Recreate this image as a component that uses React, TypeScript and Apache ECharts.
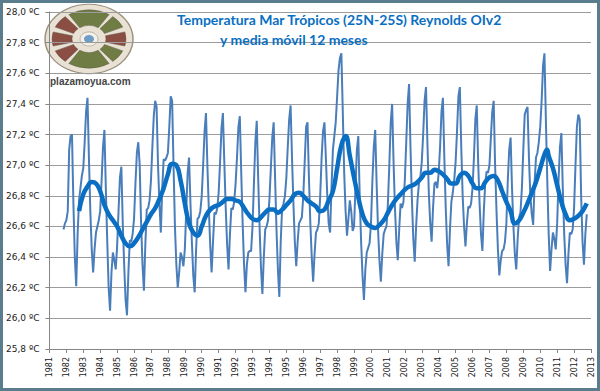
import React, { useEffect, useRef } from "react";
import * as echarts from "echarts";

// Monthly SST, tropics 25N-25S (Reynolds OIv2), Nov 1981 .. Oct 2012
const startYear = 1981;
const startMonth = 10; // November (0-based)
const sstMonthly = [
  26.58, 26.62,
  26.64, 26.70, 27.10, 27.19, 27.20, 26.75, 26.40, 26.21, 26.55, 26.77, 26.85, 26.93, // 1982
  26.98, 27.15, 27.35, 27.44, 27.05, 26.70, 26.45, 26.30, 26.45, 26.56, 26.60, 26.64, // 1983
  26.70, 26.90, 27.12, 27.23, 26.85, 26.50, 26.20, 26.05, 26.30, 26.43, 26.38, 26.32, // 1984
  26.47, 26.70, 26.92, 26.99, 26.62, 26.35, 26.12, 26.02, 26.30, 26.51, 26.50, 26.55, // 1985
  26.65, 26.88, 27.08, 27.15, 27.00, 26.62, 26.35, 26.18, 26.48, 26.71, 26.72, 26.77, // 1986
  26.90, 27.12, 27.32, 27.42, 27.38, 27.00, 26.75, 26.56, 26.85, 27.04, 27.03, 27.05, // 1987
  27.08, 27.25, 27.45, 27.42, 27.00, 26.60, 26.35, 26.20, 26.30, 26.43, 26.40, 26.34, // 1988
  26.45, 26.70, 26.95, 27.05, 26.75, 26.50, 26.28, 26.17, 26.45, 26.65, 26.66, 26.70, // 1989
  26.80, 27.00, 27.22, 27.34, 27.00, 26.72, 26.48, 26.30, 26.50, 26.69, 26.68, 26.72, // 1990
  26.82, 27.02, 27.24, 27.34, 27.02, 26.72, 26.48, 26.32, 26.55, 26.72, 26.71, 26.76, // 1991
  26.88, 27.05, 27.25, 27.32, 26.95, 26.62, 26.35, 26.17, 26.35, 26.43, 26.44, 26.44, // 1992
  26.60, 26.88, 27.15, 27.29, 26.92, 26.60, 26.33, 26.16, 26.40, 26.58, 26.60, 26.64, // 1993
  26.78, 26.98, 27.18, 27.28, 26.92, 26.58, 26.32, 26.14, 26.50, 26.72, 26.75, 26.80, // 1994
  26.92, 27.12, 27.30, 27.39, 27.05, 26.75, 26.50, 26.34, 26.50, 26.62, 26.64, 26.66, // 1995
  26.80, 27.02, 27.25, 27.28, 26.92, 26.62, 26.40, 26.24, 26.42, 26.56, 26.58, 26.62, // 1996
  26.80, 27.05, 27.22, 27.28, 27.05, 26.80, 26.62, 26.56, 26.85, 27.10, 27.19, 27.28, // 1997
  27.45, 27.62, 27.70, 27.73, 27.35, 26.95, 26.70, 26.54, 26.65, 26.77, 26.70, 26.57, // 1998
  26.60, 26.85, 27.10, 27.19, 26.80, 26.50, 26.28, 26.12, 26.32, 26.43, 26.46, 26.49, // 1999
  26.62, 26.90, 27.12, 27.23, 26.88, 26.58, 26.38, 26.24, 26.42, 26.55, 26.58, 26.60, // 2000
  26.75, 27.00, 27.28, 27.40, 27.02, 26.72, 26.50, 26.38, 26.58, 26.75, 26.72, 26.76, // 2001
  26.90, 27.15, 27.40, 27.53, 27.12, 26.78, 26.52, 26.37, 26.60, 26.77, 26.88, 26.92, // 2002
  27.02, 27.20, 27.42, 27.51, 27.15, 26.82, 26.62, 26.50, 26.72, 26.88, 26.89, 26.85, // 2003
  26.95, 27.12, 27.35, 27.44, 27.05, 26.72, 26.48, 26.34, 26.58, 26.76, 26.82, 26.90, // 2004
  27.02, 27.22, 27.45, 27.51, 27.12, 26.80, 26.60, 26.47, 26.62, 26.73, 26.72, 26.75, // 2005
  26.85, 27.05, 27.30, 27.39, 27.02, 26.75, 26.55, 26.44, 26.70, 26.88, 26.96, 26.95, // 2006
  27.00, 27.18, 27.35, 27.42, 27.00, 26.70, 26.45, 26.28, 26.38, 26.44, 26.45, 26.50, // 2007
  26.62, 26.90, 27.10, 27.18, 26.85, 26.60, 26.42, 26.32, 26.52, 26.66, 26.69, 26.85, // 2008
  27.10, 27.33, 27.36, 27.38, 27.05, 26.80, 26.68, 26.61, 26.88, 27.05, 27.08, 27.15, // 2009
  27.25, 27.42, 27.65, 27.73, 27.30, 26.90, 26.55, 26.31, 26.45, 26.56, 26.52, 26.45, // 2010
  26.62, 26.90, 27.12, 27.21, 26.85, 26.55, 26.35, 26.23, 26.42, 26.56, 26.55, 26.58, // 2011
  26.72, 27.00, 27.25, 27.33, 27.30, 26.80, 26.50, 26.35, 26.55, 26.68, // 2012
];

// 12-month moving average (quarterly)
const maYears = [
  1982.75, 1983.0, 1983.25, 1983.5, 1983.75, 1984.0, 1984.25, 1984.5, 1984.75,
  1985.0, 1985.25, 1985.5, 1985.75, 1986.0, 1986.25, 1986.5, 1986.75,
  1987.0, 1987.25, 1987.5, 1987.75, 1988.0, 1988.25, 1988.5, 1988.75,
  1989.0, 1989.25, 1989.5, 1989.75, 1990.0, 1990.25, 1990.5, 1990.75,
  1991.0, 1991.25, 1991.5, 1991.75, 1992.0, 1992.25, 1992.5, 1992.75,
  1993.0, 1993.25, 1993.5, 1993.75, 1994.0, 1994.25, 1994.5, 1994.75,
  1995.0, 1995.25, 1995.5, 1995.75, 1996.0, 1996.25, 1996.5, 1996.75,
  1997.0, 1997.25, 1997.5, 1997.75, 1998.0, 1998.25, 1998.5, 1998.75,
  1999.0, 1999.25, 1999.5, 1999.75, 2000.0, 2000.25, 2000.5, 2000.75,
  2001.0, 2001.25, 2001.5, 2001.75, 2002.0, 2002.25, 2002.5, 2002.75,
  2003.0, 2003.25, 2003.5, 2003.75, 2004.0, 2004.25, 2004.5, 2004.75,
  2005.0, 2005.25, 2005.5, 2005.75, 2006.0, 2006.25, 2006.5, 2006.75,
  2007.0, 2007.25, 2007.5, 2007.75, 2008.0, 2008.25, 2008.5, 2008.75,
  2009.0, 2009.25, 2009.5, 2009.75, 2010.0, 2010.25, 2010.4, 2010.5, 2010.75,
  2011.0, 2011.25, 2011.5, 2011.75, 2012.0, 2012.25, 2012.5, 2012.75,
];
const maValues = [
  26.70, 26.81, 26.86, 26.89, 26.88, 26.83, 26.74, 26.68, 26.64,
  26.60, 26.54, 26.49, 26.47, 26.49, 26.53, 26.58, 26.63,
  26.68, 26.72, 26.78, 26.85, 26.94, 27.01, 27.00, 26.90,
  26.75, 26.62, 26.56, 26.54, 26.60, 26.67, 26.71, 26.73,
  26.74, 26.76, 26.78, 26.78, 26.77, 26.76, 26.72, 26.68,
  26.65, 26.64, 26.66, 26.69, 26.71, 26.71, 26.69, 26.71,
  26.74, 26.77, 26.81, 26.82, 26.80, 26.77, 26.75, 26.73,
  26.70, 26.71, 26.77, 26.83, 26.98, 27.13, 27.19, 27.06,
  26.92, 26.79, 26.68, 26.62, 26.60, 26.59, 26.61, 26.64,
  26.69, 26.74, 26.78, 26.81, 26.84, 26.86, 26.87, 26.89,
  26.92, 26.95, 26.95, 26.97, 26.96, 26.94, 26.91, 26.88,
  26.88, 26.93, 26.95, 26.93, 26.88, 26.85, 26.85, 26.89,
  26.92, 26.93, 26.90, 26.83, 26.76, 26.70, 26.62, 26.64,
  26.69, 26.75, 26.82, 26.89, 26.98, 27.07, 27.10, 27.06, 26.98,
  26.87, 26.76, 26.68, 26.64, 26.65, 26.67, 26.70, 26.75,
];

const yMin = 25.8;
const yMax = 28.0;
const yStep = 0.2;
const xMin = 1981;
const xMax = 2013;

const titleLine1 = "Temperatura Mar Trópicos (25N-25S) Reynolds OIv2";
const titleLine2 = "y media móvil 12 meses";
const logoText = "plazamoyua.com";

const GREEN = "#6f7c44";
const BROWN = "#8a4e42";
const deg = (d: number) => (d * Math.PI) / 180;
const logoSegments: [number, number, string][] = [
  [237, 303, GREEN],
  [310, 336, GREEN],
  [346, 374, BROWN],
  [24, 50, GREEN],
  [57, 123, GREEN],
  [130, 156, BROWN],
  [166, 194, BROWN],
  [204, 230, BROWN],
];

export default function App() {
  const ref = useRef<HTMLDivElement>(null);
  useEffect(() => {
    document.body.style.margin = "0";
    const chart = echarts.init(ref.current!, null, { renderer: "svg" });
    const raw = sstMonthly.map((v, i) => [startYear + (startMonth + i) / 12, v]);
    const ma = maYears.map((t, i) => [t, maValues[i]]);

    const logoChildren: any[] = [
      {
        type: "circle",
        shape: { cx: 0, cy: 0, r: 44 },
        style: { fill: "#e8e1d4", stroke: "#9b927f", lineWidth: 1.5 },
      },
      ...logoSegments.map(([a, b, c]) => ({
        type: "sector",
        shape: { cx: 0, cy: 0, r0: 17, r: 37, startAngle: deg(a), endAngle: deg(b), clockwise: true },
        style: { fill: c, stroke: "#5e5648", lineWidth: 0.5 },
      })),
      { type: "circle", shape: { cx: 0, cy: 0, r: 9 }, style: { fill: "#f3f0ea", stroke: "#b8b0a0", lineWidth: 1 } },
      { type: "circle", shape: { cx: 0, cy: 0, r: 5 }, style: { fill: "#6f9cc4" } },
    ];

    chart.setOption({
      animation: false,
      backgroundColor: "#ffffff",
      grid: { left: 41, right: 6, top: 9, bottom: 39, containLabel: false },
      xAxis: {
        type: "value",
        min: xMin,
        max: xMax,
        interval: 1,
        axisLine: { show: true, lineStyle: { color: "#868686", width: 1 } },
        axisTick: { show: true, length: 4, lineStyle: { color: "#868686" } },
        splitLine: { show: false },
        axisLabel: {
          rotate: 90,
          margin: 8,
          formatter: (v: number) => String(v),
          fontSize: 8,
          fontFamily: "DejaVu Sans",
          color: "#222222",
          showMinLabel: true,
          showMaxLabel: true,
        },
      },
      yAxis: {
        type: "value",
        min: yMin,
        max: yMax,
        interval: yStep,
        axisLine: { show: true, lineStyle: { color: "#868686", width: 1 } },
        axisTick: { show: true, length: 4, lineStyle: { color: "#868686" } },
        splitLine: { show: true, lineStyle: { color: "#9c9c9c", width: 1 } },
        axisLabel: {
          margin: 10,
          formatter: (v: number) => v.toFixed(1).replace(".", ",") + " ºC",
          fontSize: 9,
          fontFamily: "DejaVu Sans",
          color: "#222222",
        },
      },
      series: [
        {
          type: "line",
          data: raw,
          symbol: "none",
          lineStyle: { color: "#4a7ebb", width: 2 },
          z: 2,
        },
        {
          type: "line",
          data: ma,
          symbol: "none",
          smooth: 0.5,
          lineStyle: { color: "#0a6fc2", width: 4.5 },
          z: 3,
        },
      ],
      graphic: [
        {
          type: "group",
          x: 86,
          y: 36,
          scaleY: 0.79,
          z: 100,
          children: logoChildren,
        },
        {
          type: "text",
          x: 47,
          y: 78,
          z: 100,
          style: {
            text: logoText,
            fill: "#454545",
            font: "bold 10px 'Liberation Sans'",
            align: "left",
            verticalAlign: "middle",
          },
        },
        {
          type: "text",
          x: 174,
          y: 16,
          z: 100,
          style: {
            text: titleLine1,
            fill: "#0a6fc2",
            font: "bold 14px Lato",
            align: "left",
            verticalAlign: "middle",
          },
        },
        {
          type: "text",
          x: 217,
          y: 36,
          z: 100,
          style: {
            text: titleLine2,
            fill: "#0a6fc2",
            font: "bold 14px Lato",
            align: "left",
            verticalAlign: "middle",
          },
        },
      ],
    });
    return () => chart.dispose();
  }, []);
  return (
    <div
      ref={ref}
      style={{
        position: "absolute",
        left: 0,
        top: 0,
        width: 594,
        height: 385,
        border: "3px solid #5a7d8e",
        background: "#ffffff",
      }}
    />
  );
}
